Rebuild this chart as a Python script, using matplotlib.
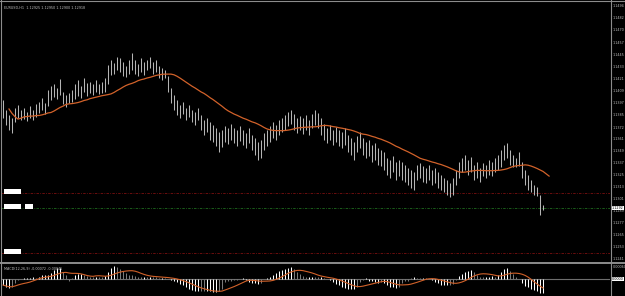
import numpy as np
import pandas as pd
import matplotlib
matplotlib.use('Agg')
import matplotlib.pyplot as plt
from matplotlib.lines import Line2D
from matplotlib.patches import Rectangle

# dati (EURUSD H1, barre da sinistra a destra)
simbolo = 'EURUSD,H1'
massimi = [1.1400, 1.1390, 1.1385, 1.1382, 1.1392, 1.1395, 1.1390, 1.1392, 1.1388, 1.1394,
           1.1390, 1.1396, 1.1398, 1.1402, 1.1397, 1.1410, 1.1414, 1.1416, 1.1412, 1.1421,
           1.1408, 1.1405, 1.1407, 1.1410, 1.1416, 1.1420, 1.1414, 1.1422, 1.1417, 1.1418,
           1.1416, 1.1420, 1.1416, 1.1418, 1.1422, 1.1435, 1.1440, 1.1437, 1.1443, 1.1442,
           1.1438, 1.1434, 1.1440, 1.1447, 1.1440, 1.1436, 1.1442, 1.1438, 1.1440, 1.1443,
           1.1438, 1.1440, 1.1434, 1.1432, 1.1430, 1.1424, 1.1412, 1.1405, 1.1400, 1.1395,
           1.1398, 1.1392, 1.1395, 1.1390, 1.1388, 1.1392, 1.1385, 1.1380, 1.1382, 1.1378,
           1.1375, 1.1372, 1.1368, 1.1370, 1.1374, 1.1372, 1.1376, 1.1372, 1.1370, 1.1374,
           1.1370, 1.1367, 1.1372, 1.1365, 1.1362, 1.1358, 1.1360, 1.1367, 1.1370, 1.1374,
           1.1378, 1.1375, 1.1380, 1.1382, 1.1385, 1.1388, 1.1390, 1.1386, 1.1382, 1.1384,
           1.1382, 1.1385, 1.1380, 1.1386, 1.1390, 1.1387, 1.1382, 1.1376, 1.1372, 1.1375,
           1.1370, 1.1373, 1.1370, 1.1368, 1.1372, 1.1365, 1.1362, 1.1358, 1.1364, 1.1368,
           1.1362, 1.1358, 1.1360, 1.1355, 1.1357, 1.1352, 1.1350, 1.1348, 1.1342, 1.1340,
           1.1344, 1.1338, 1.1340, 1.1338, 1.1335, 1.1332, 1.1330, 1.1328, 1.1335, 1.1337,
           1.1334, 1.1332, 1.1335, 1.1330, 1.1332, 1.1328, 1.1325, 1.1322, 1.1320, 1.1317,
           1.1322, 1.1330, 1.1338, 1.1342, 1.1345, 1.1340, 1.1343, 1.1335, 1.1338, 1.1332,
           1.1337, 1.1335, 1.1340, 1.1338, 1.1342, 1.1345, 1.1350, 1.1355, 1.1357, 1.1350,
           1.1345, 1.1342, 1.1348, 1.1338, 1.1330, 1.1325, 1.1320, 1.1315, 1.1313, 1.1305,
           1.1295]
minimi = [1.1382, 1.1375, 1.1370, 1.1367, 1.1378, 1.1382, 1.1380, 1.1381, 1.1379, 1.1382,
          1.1380, 1.1383, 1.1387, 1.1390, 1.1386, 1.1394, 1.1400, 1.1403, 1.1401, 1.1405,
          1.1396, 1.1393, 1.1397, 1.1398, 1.1401, 1.1404, 1.1402, 1.1408, 1.1404, 1.1407,
          1.1405, 1.1408, 1.1406, 1.1407, 1.1408, 1.1416, 1.1425, 1.1426, 1.1430, 1.1428,
          1.1424, 1.1423, 1.1426, 1.1430, 1.1426, 1.1424, 1.1428, 1.1425, 1.1430, 1.1432,
          1.1426, 1.1428, 1.1422, 1.1420, 1.1422, 1.1408, 1.1397, 1.1390, 1.1385, 1.1382,
          1.1386, 1.1380, 1.1383, 1.1378, 1.1375, 1.1380, 1.1370, 1.1365, 1.1368, 1.1360,
          1.1358, 1.1354, 1.1348, 1.1353, 1.1358, 1.1356, 1.1360, 1.1357, 1.1354, 1.1359,
          1.1355, 1.1352, 1.1357, 1.1350, 1.1345, 1.1340, 1.1342, 1.1350, 1.1354, 1.1358,
          1.1362, 1.1360, 1.1365, 1.1368, 1.1370, 1.1374, 1.1376, 1.1370, 1.1367, 1.1370,
          1.1366, 1.1370, 1.1365, 1.1372, 1.1375, 1.1372, 1.1365, 1.1360, 1.1357, 1.1360,
          1.1355, 1.1358, 1.1354, 1.1352, 1.1355, 1.1348, 1.1345, 1.1340, 1.1348, 1.1352,
          1.1345, 1.1342, 1.1344, 1.1338, 1.1340, 1.1335, 1.1334, 1.1330, 1.1325, 1.1322,
          1.1328, 1.1320, 1.1324, 1.1320, 1.1318, 1.1315, 1.1312, 1.1310, 1.1320, 1.1322,
          1.1318, 1.1317, 1.1320, 1.1315, 1.1317, 1.1312, 1.1310, 1.1308, 1.1305, 1.1303,
          1.1305, 1.1315, 1.1322, 1.1328, 1.1330, 1.1325, 1.1328, 1.1320, 1.1322, 1.1318,
          1.1324, 1.1322, 1.1325, 1.1324, 1.1328, 1.1330, 1.1333, 1.1340, 1.1342, 1.1335,
          1.1333, 1.1333, 1.1334, 1.1322, 1.1315, 1.1310, 1.1308, 1.1305, 1.1304, 1.1285,
          1.1290]
# istogramma MACD, in unità di 0.00001
macd_letto = [-30, -40, -45, -40, -20, -5, 0, 3, 5, 5,
              8, 5, 12, 18, 20, 20, 30, 45, 55, 55,
              35, 20, -10, 5, 20, 25, 25, 22, 15, 10,
              8, 12, 10, 8, 15, 35, 55, 65, 60, 50,
              40, 30, 20, 18, 15, 12, 10, 12, 10, 12,
              10, 8, 5, 5, 3, 0, -5, -10, -15, -25,
              -30, -40, -50, -55, -60, -62, -60, -58, -60, -62,
              -65, -65, -62, -50, -15, -10, -8, -5, -3, 0,
              3, -5, -15, -18, -20, -25, -20, 0, 5, 10,
              20, 30, 40, 45, 50, 55, 60, 50, 35, 25,
              15, 10, 10, 12, 10, 8, 10, 5, 0, -5,
              -15, -25, -30, -38, -45, -48, -50, -50, -40, -15,
              -5, 5, -8, -12, -15, -18, -15, -20, -30, -38,
              -42, -45, -40, -20, -12, -8, 5, 8, 5, 3,
              5, 3, 0, -5, -15, -22, -28, -32, -32, -30,
              -25, -5, 15, 25, 35, 42, 45, 35, 20, 10,
              8, 10, 12, 15, 12, 18, 35, 50, 55, 40,
              25, 12, 0, -20, -35, -42, -48, -55, -62, -70,
              -72]
livelli_rossi = [1.1307, 1.1247]
livello_verde = 1.1292
prezzi_asse = [1.1494, 1.1482, 1.1470, 1.1457, 1.1445, 1.1433, 1.1421, 1.1409, 1.1397,
               1.1385, 1.1372, 1.1361, 1.1349, 1.1337, 1.1325, 1.1313, 1.1301, 1.1289,
               1.1277, 1.1265, 1.1253, 1.1241]

n = min(len(massimi), len(minimi), len(macd_letto))
high = np.array(massimi[:n])
low = np.array(minimi[:n])
x = np.arange(n)
mediana = pd.Series((high + low) / 2)

# media mobile sul prezzo mediano
ma = mediana.ewm(span=28, adjust=True).mean()

# MACD(12,26,9): linea principale letta, segnale = media semplice a 9
macd = np.array(macd_letto[:n]) * 1e-5
segnale = pd.Series(macd).rolling(9, min_periods=1).mean().values

W, H = 625, 296
fig = plt.figure(figsize=(W / 100, H / 100), dpi=100, facecolor='black')

def box(l, t, r, b):
    return [l / W, 1 - b / H, (r - l) / W, (b - t) / H]

grigio = '#8c8c8c'
testo = '#bdbdbd'
arancio = '#d2622a'
fs = 2.4

ax = fig.add_axes(box(1, 1, 610, 262), facecolor='black')
ax2 = fig.add_axes(box(1, 265, 610, 296), facecolor='black')
for a in (ax, ax2):
    a.set_xlim(-0.67, 202.3)
    a.set_xticks([])
    a.set_yticks([])
    for s in a.spines.values():
        s.set_visible(False)

ax.set_ylim(1.1238, 1.1499)

# barre
ax.vlines(x, low, high, color='#b4b4b4', lw=0.75, zorder=3)
ax.plot(x + 2, ma, color=arancio, lw=0.9, zorder=4)

# linee orizzontali
for liv in livelli_rossi:
    ax.axhline(liv, color='#7a1010', lw=0.6, ls=(0, (3, 1.5, 1, 1.5)), zorder=2)
ax.axhline(livello_verde, color='#1f6b1f', lw=0.6, ls=(0, (3, 1.5, 1, 1.5)), zorder=2)

tr = ax.get_yaxis_transform()
for liv in livelli_rossi + [livello_verde]:
    ax.add_patch(Rectangle((3 / 609, liv - 0.00005), 17 / 609, 0.00045,
                           transform=tr, fc='white', ec='none', zorder=5))
ax.add_patch(Rectangle((24 / 609, livello_verde - 0.00008), 8 / 609, 0.00045,
                       transform=tr, fc='white', ec='none', zorder=5))

# scala prezzi
for p in prezzi_asse:
    ax.text(1.004, p, f'{p:.4f}', transform=tr, color=testo, fontsize=fs,
            va='center', ha='left', clip_on=False)
ax.text(1.003, livello_verde, f'{livello_verde:.4f}', transform=tr, color='black',
        fontsize=fs, va='center', ha='left', clip_on=False, zorder=10,
        bbox=dict(fc='white', ec='none', pad=0.3))

ax.text(0.005, 0.975, f'{simbolo}  1.12925 1.12950 1.12900 1.12918', transform=ax.transAxes,
        color=testo, fontsize=fs, va='center', ha='left')

# MACD
colori = ['white' if i == 0 or abs(macd[i]) >= abs(macd[i - 1]) else '#7a7a7a'
          for i in range(n)]
ax2.vlines(x, 0, macd, colors=colori, lw=0.75, zorder=3)
ax2.plot(x, segnale, color=arancio, lw=0.8, zorder=4)
ax2.axhline(0, color='#6e6e6e', lw=0.8, zorder=1)
ax2.set_ylim(-85e-5, 70e-5)
tr2 = ax2.get_yaxis_transform()
ax2.text(1.004, 60e-5, '0.00060', transform=tr2, color=testo, fontsize=fs,
         va='center', ha='left', clip_on=False)
ax2.text(1.003, 0, '0.0000', transform=tr2, color='black', fontsize=fs, va='center',
         ha='left', clip_on=False, bbox=dict(fc='white', ec='none', pad=0.3))
ax2.text(0.005, 0.86, f'MACD(12,26,9) {macd[-1]:.5f} {segnale[-1]:.5f}',
         transform=ax2.transAxes, color=testo, fontsize=fs, va='center', ha='left')

# bordi e separatori
fig.add_artist(Line2D([0, 1], [1 - 263 / H] * 2, color=grigio, lw=1.4))
fig.add_artist(Line2D([0, 1], [1 - 0.5 / H] * 2, color=grigio, lw=0.8))
fig.add_artist(Line2D([0.5 / W] * 2, [0, 1], color=grigio, lw=0.8))
fig.add_artist(Line2D([610.5 / W] * 2, [0, 1], color=grigio, lw=0.8))

fig.savefig('out.png', dpi=100, facecolor='black')
